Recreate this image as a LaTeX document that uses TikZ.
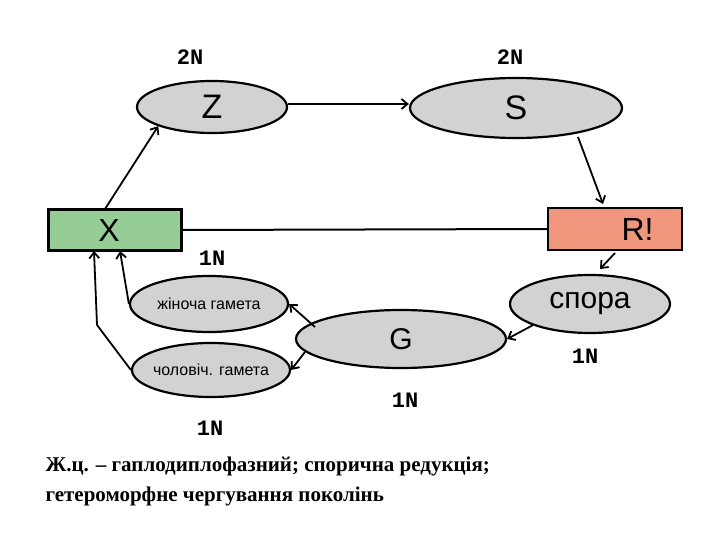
\documentclass[tikz,border=0pt]{standalone}
\usepackage{fontspec}
\setmainfont{Liberation Serif}
\newfontfamily\arialf{Liberation Sans}
\newfontfamily\monof{Liberation Mono}
\usetikzlibrary{shapes.geometric,arrows.meta}
\begin{document}
\begin{tikzpicture}[x=1pt,y=-1pt,
  ell/.style={ellipse,draw,line width=2.2pt,fill=gray!35,inner sep=-4pt,font=\arialf},
  box/.style={rectangle,draw,line width=2.2pt,inner sep=0pt,font=\arialf\fontsize{32}{32}\selectfont},
  arr/.style={-{Straight Barb[length=6pt,width=10pt]},line width=1.8pt},
  lab/.style={font=\monof\bfseries\fontsize{22}{22}\selectfont}]
\useasboundingbox (0,0) rectangle (720,540);
\node[ell,minimum width=150,minimum height=52,font=\arialf\fontsize{34}{34}\selectfont] (Z) at (212,107) {Z};
\node[ell,minimum width=212,minimum height=60,font=\arialf\fontsize{34}{34}\selectfont] (S) at (516,108) {S};
\node[box,fill={rgb,255:red,150;green,205;blue,150},minimum width=133,minimum height=41] (X) at (115,230) {\hspace*{-12pt}X};
\node[box,fill={rgb,255:red,240;green,150;blue,125},minimum width=134,minimum height=42] (R) at (615,229) {\hspace*{45pt}R!};
\node[ell,minimum width=160,minimum height=58,font=\arialf\fontsize{30}{30}\selectfont] (sp) at (590,304) {спора};
\node[ell,minimum width=210,minimum height=58,font=\arialf\fontsize{30}{30}\selectfont] (G) at (401,339) {G};
\node[ell,minimum width=158,minimum height=56,font=\arialf\fontsize{16}{16}\selectfont] (f) at (209,304) {жіноча гамета};
\node[ell,minimum width=158,minimum height=54,font=\arialf\fontsize{16}{16}\selectfont] (m) at (211,370) {чоловіч. гамета};
\node[lab] (l1) at (190,57) {2N};
\node[lab] (l2) at (510,57) {2N};
\node[lab] (l3) at (212,258) {1N};
\node[lab] (l4) at (585,356) {1N};
\node[lab] (l5) at (405,400) {1N};
\node[lab] (l6) at (210,428) {1N};
\draw[line width=2pt] (X.east) -- (R.west);
\coordinate (xa) at (105,209);
\draw[arr] (xa) -- (Z.south west);
\coordinate (zs) at (410,104);
\draw[arr] (Z.east |- zs) -- (S.west |- zs);
\coordinate (sa) at (578,137);
\draw[arr] (sa) -- (603,204);
\coordinate (ra) at (615,253);
\coordinate (rb) at (600,269);
\draw[arr] (ra) -- (rb);
\draw[arr] (sp.south west) -- (G.east);
\coordinate (ga) at (315,327);
\draw[arr] (ga) -- (f.east);
\coordinate (gb) at (305,352);
\draw[arr] (gb) -- (m.east);
\coordinate (xf) at (120,251);
\coordinate (xm) at (94,251);
\draw[arr] (f.west) -- (xf);
\draw[arr] (m.west) -- (97,325) -- (xm);
\node[anchor=west,align=left,font=\bfseries\fontsize{21}{30}\selectfont] (t) at (42,481) {Ж.ц. – гаплодиплофазний; спорична редукція;\\гетероморфне чергування поколінь};
\end{tikzpicture}
\end{document}
